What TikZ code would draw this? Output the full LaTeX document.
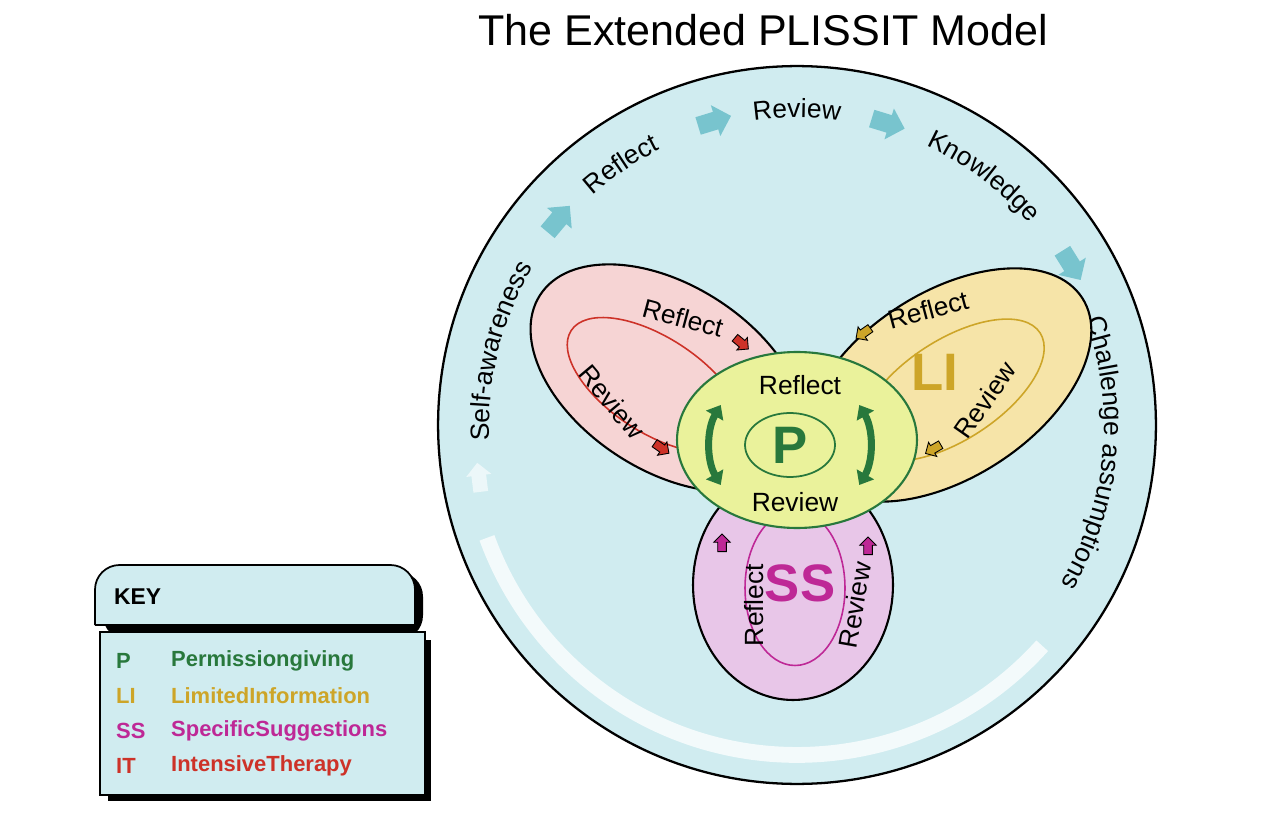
\documentclass[tikz,border=0pt]{standalone}
\usepackage{fontspec}
\setmainfont{Liberation Sans}
\usetikzlibrary{shapes.arrows,arrows.meta,decorations.text,calc}
\definecolor{bg}{RGB}{208,236,240}
\definecolor{teal}{RGB}{120,196,206}
\definecolor{rfill}{RGB}{246,212,212}
\definecolor{yfill}{RGB}{246,228,168}
\definecolor{pfill}{RGB}{232,198,232}
\definecolor{gfill}{RGB}{234,242,155}
\definecolor{gtxt}{RGB}{40,120,60}
\definecolor{gold}{RGB}{205,165,40}
\definecolor{mag}{RGB}{190,40,150}
\definecolor{red2}{RGB}{205,50,40}
\begin{document}
\begin{tikzpicture}[x=0.02cm,y=-0.02cm,
  lbl/.style={font=\fontsize{15}{15}\selectfont},
  sm/.style={single arrow,draw=black,line width=0.5pt,inner xsep=3.5pt,inner ysep=2.2pt,single arrow head extend=2.2pt},
  big/.style={single arrow,fill=teal,inner xsep=7pt,inner ysep=5pt,single arrow head extend=4pt},
  keyt/.style={font=\bfseries\fontsize{12.5}{13}\selectfont,anchor=west}]
\useasboundingbox (0,0) rectangle (1278,824);
\node[font=\fontsize{24.5}{25}\selectfont] (title) at (763,30) {The Extended PLISSIT Model};
\coordinate (O) at (797,425);
\draw[line width=1.3pt,fill=bg] (O) circle (7.18cm);
% faded lower arc
\draw[white,opacity=0.75,line width=9pt] ($(O)+(318:6.6cm)$) arc (318:200:6.6cm);
\node[single arrow,fill=white,opacity=0.6,inner xsep=6pt,inner ysep=4pt,single arrow head extend=3pt,rotate=97] (fa) at ($(O)+(190:6.45cm)$) {};
% outer text
\path[decorate,decoration={text along path,text align=center,text={|\fontsize{15}{15}\selectfont|Self-awareness}}] ($(O)+(187:6.15cm)$) arc (187:145:6.15cm);
\path[decorate,decoration={text along path,text align=center,text={|\fontsize{15}{15}\selectfont|Reflect}}] ($(O)+(134:6.15cm)$) arc (134:114:6.15cm);
\path[decorate,decoration={text along path,text align=center,text={|\fontsize{15}{15}\selectfont|Review}}] ($(O)+(100:6.15cm)$) arc (100:80:6.15cm);
\path[decorate,decoration={text along path,text align=center,text={|\fontsize{15}{15}\selectfont|Knowledge}}] ($(O)+(68:6.15cm)$) arc (68:38:6.15cm);
\path[decorate,decoration={text along path,text align=center,text={|\fontsize{15}{15}\selectfont|Challenge assumptions}}] ($(O)+(25:6.15cm)$) arc (25:-36:6.15cm);
\node[big,rotate=50] (a1) at ($(O)+(140:6.3cm)$) {};
\node[big,rotate=17] (a2) at ($(O)+(106:6.3cm)$) {};
\node[big,rotate=-17] (a3) at ($(O)+(74:6.3cm)$) {};
\node[big,rotate=-58] (a4) at ($(O)+(31:6.35cm)$) {};
% petals
\draw[line width=1.2pt,fill=rfill,rotate around={-33:(668,378)}] (668,378) ellipse (3.05cm and 1.85cm);
\draw[red2,line width=0.9pt,rotate around={-33:(655,385)}] (655,385) ellipse (2.0cm and 0.95cm);
\draw[line width=1.2pt,fill=yfill,rotate around={33:(948,385)}] (948,385) ellipse (3.2cm and 1.85cm);
\draw[gold,line width=0.9pt,rotate around={33:(952,390)}] (952,390) ellipse (2.1cm and 1.0cm);
\draw[line width=1.2pt,fill=pfill] (793,585) ellipse (2.0cm and 2.3cm);
\draw[mag,line width=0.9pt] (795,588) ellipse (1.0cm and 1.55cm);
\node[font=\bfseries\fontsize{30}{30}\selectfont,text=gold] (LI) at (935,372) {LI};
\node[font=\bfseries\fontsize{30}{30}\selectfont,text=mag] (SS) at (800,583) {SS};
\node[lbl,rotate=-15] (r1) at (683,318) {Reflect};
\node[lbl,rotate=-50] (r2) at (612,402) {Review};
\node[lbl,rotate=15] (y1) at (928,310) {Reflect};
\node[lbl,rotate=55] (y2) at (985,400) {Review};
\node[lbl,rotate=90] (m1) at (754,605) {Reflect};
\node[lbl,rotate=80] (m2) at (855,605) {Review};
\node[sm,fill=red2,rotate=-40] (s1) at (740,342) {};
\node[sm,fill=red2,rotate=-35] (s2) at (660,447) {};
\node[sm,fill=gold,rotate=-145] (s3) at (865,332) {};
\node[sm,fill=gold,rotate=-150] (s4) at (935,448) {};
\node[sm,fill=mag,rotate=90] (s5) at (722,545) {};
\node[sm,fill=mag,rotate=90] (s6) at (868,548) {};
% center
\draw[gtxt,line width=1.2pt,fill=gfill] (797,440) ellipse (2.4cm and 1.76cm);
\draw[gtxt,line width=1pt] (790,445) ellipse (0.9cm and 0.64cm);
\node[font=\bfseries\fontsize{30}{30}\selectfont,text=gtxt] (P) at (790,445) {P};
\node[lbl] (c1) at (800,385) {Reflect};
\node[lbl] (c2) at (795,502) {Review};
\coordinate (PC) at (790,445);
\draw[gtxt,line width=4pt,{Triangle[length=7pt,width=11pt]}-{Triangle[length=7pt,width=11pt]}] ($(PC)+(150:1.6cm)$) arc (150:210:1.6cm);
\draw[gtxt,line width=4pt,{Triangle[length=7pt,width=11pt]}-{Triangle[length=7pt,width=11pt]}] ($(PC)+(30:1.6cm)$) arc (30:-30:1.6cm);
% key
\fill[black,rounded corners=14pt] (103,572) -- (103,640) -- (423,640) -- (423,572) -- cycle;
\draw[line width=1pt,fill=bg,rounded corners=14pt] (95,625) -- (95,565) -- (415,565) -- (415,625);
\draw[line width=1pt] (95,625) -- (415,625);
\fill[black] (108,640) rectangle (431,801);
\draw[line width=1pt,fill=bg] (100,632) rectangle (425,795);
\node[font=\bfseries\fontsize{13}{13}\selectfont,anchor=west] (key) at (108,597) {KEY};
\node[keyt,text=gtxt] (k1) at (110,661) {P};
\node[keyt,text=gtxt] (k1t) at (165,661) {Permissiongiving};
\node[keyt,text=gold] (k2) at (110,696) {LI};
\node[keyt,text=gold] (k2t) at (165,696) {LimitedInformation};
\node[keyt,text=mag] (k3) at (110,731) {SS};
\node[keyt,text=mag] (k3t) at (165,731) {SpecificSuggestions};
\node[keyt,text=red2] (k4) at (110,766) {IT};
\node[keyt,text=red2] (k4t) at (165,766) {IntensiveTherapy};
\end{tikzpicture}
\end{document}
